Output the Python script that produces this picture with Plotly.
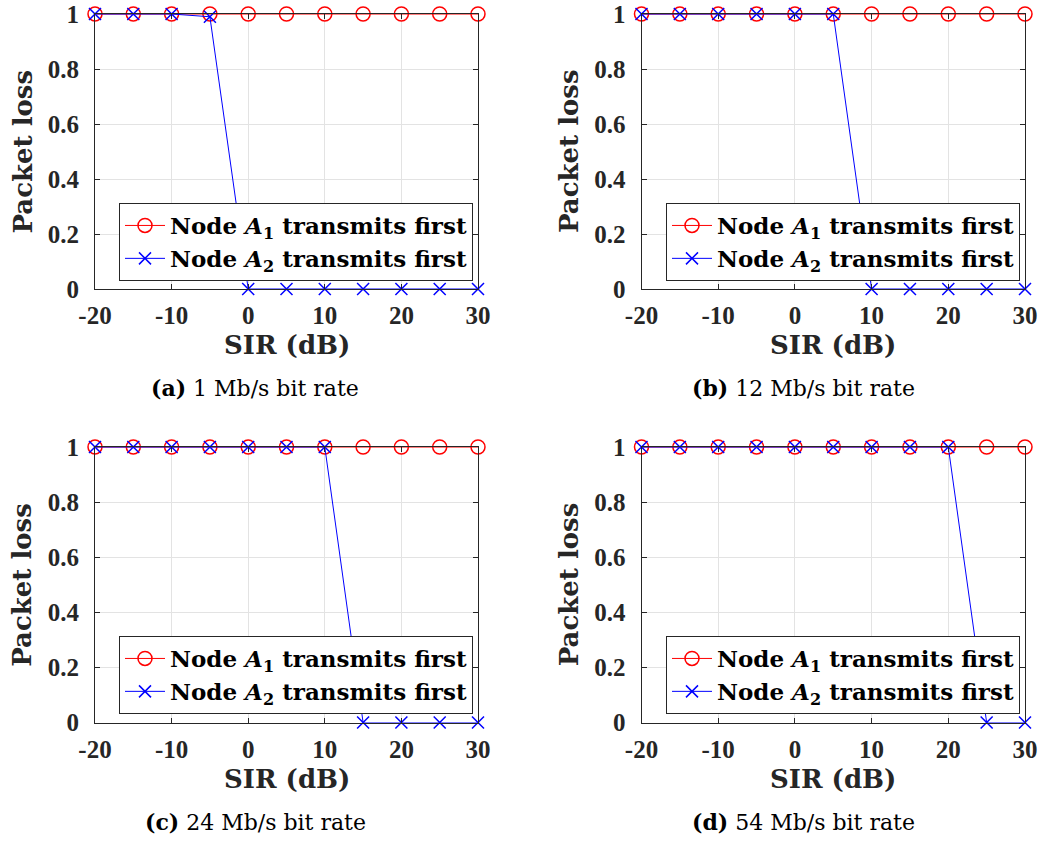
import plotly.graph_objects as go

# SIR sweep (dB)
sir_db = [-20, -15, -10, -5, 0, 5, 10, 15, 20, 25, 30]

# Packet loss when node A1 transmits first (all bit rates)
loss_a1_first = [1, 1, 1, 1, 1, 1, 1, 1, 1, 1, 1]

# Packet loss when node A2 transmits first, per bit rate
loss_a2_first_1mbps = [1, 1, 1, 0.99, 0, 0, 0, 0, 0, 0, 0]
loss_a2_first_12mbps = [1, 1, 1, 1, 1, 1, 0, 0, 0, 0, 0]
loss_a2_first_24mbps = [1, 1, 1, 1, 1, 1, 1, 0, 0, 0, 0]
loss_a2_first_54mbps = [1, 1, 1, 1, 1, 1, 1, 1, 1, 0, 0]

panel_tags = ["(a)", "(b)", "(c)", "(d)"]
panel_rates = ["1 Mb/s bit rate", "12 Mb/s bit rate", "24 Mb/s bit rate", "54 Mb/s bit rate"]
panel_a2 = [loss_a2_first_1mbps, loss_a2_first_12mbps, loss_a2_first_24mbps, loss_a2_first_54mbps]

x_ticks = [-20, -10, 0, 10, 20, 30]
y_ticks = [0, 0.2, 0.4, 0.6, 0.8, 1]

W, H = 1039, 842
AXIS_COLOR = "#262626"
GRID_COLOR = "#e3e3e3"
TICK_FONT = dict(family="Liberation Serif", size=25, color="#262626", weight="bold")
TITLE_FONT = dict(family="DejaVu Serif", size=26, color="#262626")
LEGEND_FONT = dict(family="DejaVu Serif", size=23, color="black")
CAPTION_FONT = dict(family="DejaVu Serif", size=22, color="black")

# pixel geometry of the four panels: (left, right, top, bottom)
boxes = [
    (95, 478, 14, 289),
    (641.5, 1025, 14, 289),
    (95, 478, 447, 722.5),
    (641.5, 1025, 447, 722.5),
]
caption_cx = [255, 803, 255, 803]

fig = go.Figure()
annotations = []

for i in range(4):
    left, right, top, bottom = boxes[i]
    n = i + 1
    xa = "x" if n == 1 else f"x{n}"
    ya = "y" if n == 1 else f"y{n}"
    lg = "legend" if n == 1 else f"legend{n}"

    fig.add_trace(go.Scatter(
        x=sir_db, y=loss_a1_first, xaxis=xa, yaxis=ya, legend=lg,
        mode="lines+markers", cliponaxis=False,
        name="<b>Node <i>A</i><sub>1</sub> transmits first</b>",
        line=dict(color="#ff0000", width=1),
        marker=dict(symbol="circle-open", size=14, color="#ff0000", line=dict(width=1.5)),
    ))
    fig.add_trace(go.Scatter(
        x=sir_db, y=panel_a2[i], xaxis=xa, yaxis=ya, legend=lg,
        mode="lines+markers", cliponaxis=False,
        name="<b>Node <i>A</i><sub>2</sub> transmits first</b>",
        line=dict(color="#0000ff", width=1),
        marker=dict(symbol="x-thin-open", size=12, color="#0000ff", line=dict(width=1.5, color="#0000ff")),
    ))

    axis_common = dict(
        showline=True, linecolor=AXIS_COLOR, linewidth=1, mirror="ticks",
        ticks="inside", ticklen=5, tickcolor=AXIS_COLOR, tickwidth=1,
        showgrid=True, gridcolor=GRID_COLOR, gridwidth=1, zeroline=False,
        tickfont=TICK_FONT, automargin=False,
    )
    fig.update_layout(**{
        ("xaxis" if n == 1 else f"xaxis{n}"): dict(
            domain=[left / W, right / W], anchor=ya, range=[-20, 30],
            tickvals=x_ticks, ticktext=[str(v) for v in x_ticks],
            ticklabelstandoff=4, **axis_common),
        ("yaxis" if n == 1 else f"yaxis{n}"): dict(
            domain=[1 - bottom / H, 1 - top / H], anchor=xa, range=[0, 1],
            tickvals=y_ticks, ticktext=["0", "0.2", "0.4", "0.6", "0.8", "1"],
            ticklabelstandoff=10, **axis_common),
        lg: dict(
            x=(right - 5) / W, xanchor="right", y=1 - (top + 189) / H, yanchor="top",
            bgcolor="white", bordercolor=AXIS_COLOR, borderwidth=1,
            font=LEGEND_FONT, itemwidth=40, tracegroupgap=0,
        ),
    })

    cx = (left + right) / 2
    annotations.append(dict(
        text="<b>SIR (dB)</b>", x=cx / W, y=1 - (bottom + 56) / H,
        xref="paper", yref="paper", showarrow=False, font=TITLE_FONT,
        xanchor="center", yanchor="middle"))
    annotations.append(dict(
        text="<b>Packet loss</b>", x=(left - 73) / W, y=1 - (top + bottom) / 2 / H,
        xref="paper", yref="paper", showarrow=False, font=TITLE_FONT, textangle=-90,
        xanchor="center", yanchor="middle"))
    annotations.append(dict(
        text=f"<b>{panel_tags[i]}</b> {panel_rates[i]}", x=caption_cx[i] / W,
        y=1 - (bottom + 99) / H, xref="paper", yref="paper", showarrow=False,
        font=CAPTION_FONT, xanchor="center", yanchor="middle"))

fig.update_layout(
    width=W, height=H, margin=dict(l=0, r=0, t=0, b=0),
    paper_bgcolor="white", plot_bgcolor="white",
    showlegend=True, annotations=annotations,
)

fig.write_html("out.html")
